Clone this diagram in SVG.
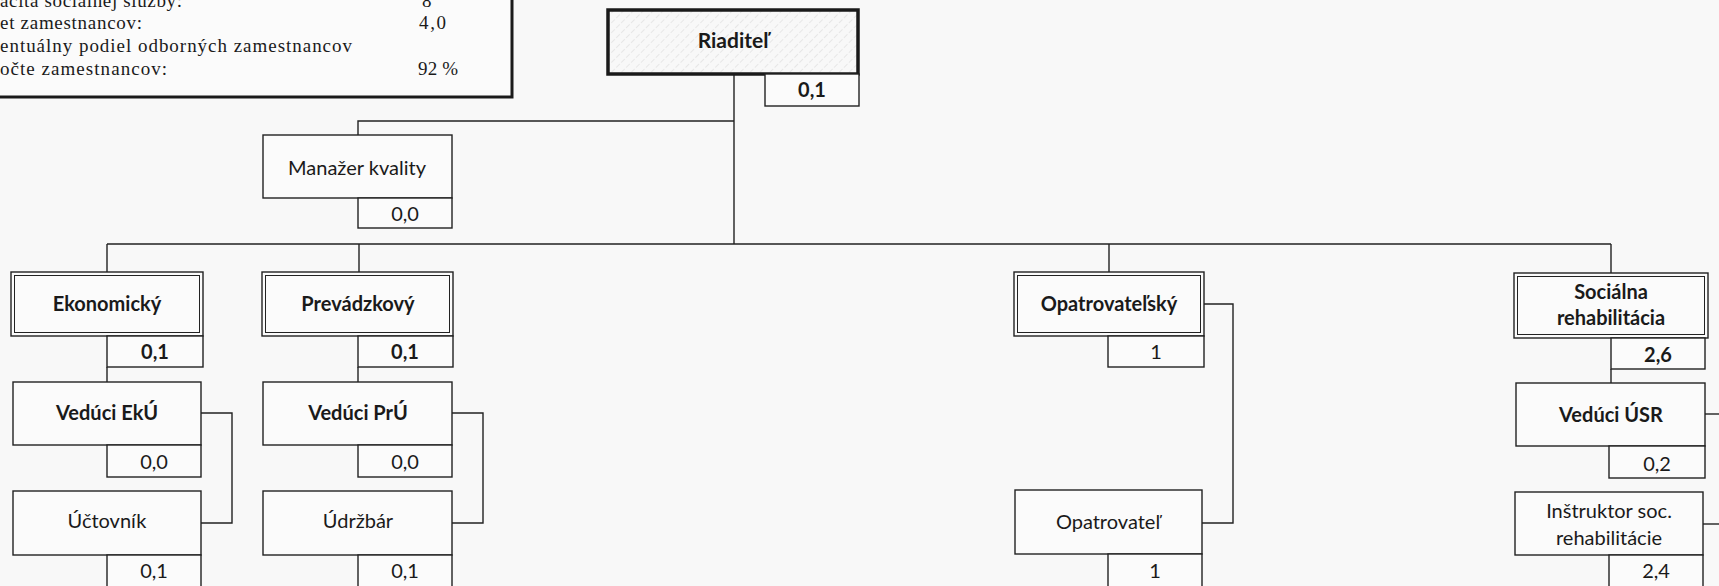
<svg xmlns="http://www.w3.org/2000/svg" width="1719" height="586" viewBox="0 0 1719 586">
<defs>
<pattern id="hatch" width="7" height="7" patternUnits="userSpaceOnUse" patternTransform="rotate(45)">
<line x1="0" y1="0" x2="0" y2="7" stroke="#c4c4c4" stroke-width="0.7" stroke-dasharray="4 2"/>
</pattern>
<style>
.bg{fill:#f8f8f8}
.box{fill:#fbfbfb;stroke:#222;stroke-width:1.4}
.inner{fill:none;stroke:#222;stroke-width:1}
.thick{fill:url(#hatch);stroke:#1a1a1a;stroke-width:3.5}
.info{fill:#fbfbfb;stroke:#1a1a1a;stroke-width:3}
.conn{fill:none;stroke:#222;stroke-width:1.4}
.t{font-family:Lato,"Liberation Sans",sans-serif;font-size:20px;fill:#1a1a1a;text-anchor:middle}
.b{font-weight:bold}
.big{font-size:21px}
.s{font-family:"Liberation Serif",serif;font-size:19px;fill:#1a1a1a}
</style>
</defs>
<rect class="bg" x="0" y="0" width="1719" height="586"/>

<g id="info">
<rect class="info" x="-10" y="-10" width="522" height="107"/>
<text class="s" x="0" y="7" textLength="182" lengthAdjust="spacing">acita sociálnej služby:</text>
<text class="s" x="422" y="7">8</text>
<text class="s" x="0" y="29" textLength="142" lengthAdjust="spacing">et zamestnancov:</text>
<text class="s" x="419" y="29" textLength="27" lengthAdjust="spacing">4,0</text>
<text class="s" x="0" y="52" textLength="352" lengthAdjust="spacing">entuálny podiel odborných zamestnancov</text>
<text class="s" x="0" y="75" textLength="167" lengthAdjust="spacing">očte zamestnancov:</text>
<text class="s" x="418" y="75" textLength="40" lengthAdjust="spacing">92 %</text>
</g>

<g id="connectors">
<path class="conn" d="M734,74 V244"/>
<path class="conn" d="M734,121 H358 V135"/>
<path class="conn" d="M107,244 H1611"/>
<path class="conn" d="M107,244 V272"/>
<path class="conn" d="M359,244 V272"/>
<path class="conn" d="M1109,244 V272"/>
<path class="conn" d="M1611,244 V273"/>
<path class="conn" d="M107,367 V382"/>
<path class="conn" d="M358,367 V382"/>
<path class="conn" d="M1611,369 V383"/>
<path class="conn" d="M201,413 H232 V523 H201"/>
<path class="conn" d="M452,413 H483 V523 H452"/>
<path class="conn" d="M1204,304 H1233 V523 H1202"/>
<path class="conn" d="M1705,414 H1725"/>
<path class="conn" d="M1703,524 H1725"/>
</g>

<g id="riaditel">
<rect class="thick" x="608" y="10" width="250" height="64"/>
<text class="t b big" x="733" y="48">Riaditeľ</text>
<rect class="box" x="765" y="74" width="94" height="32"/>
<text class="t b" x="812" y="97">0,1</text>
</g>

<g id="manazer">
<rect class="box" x="263" y="135" width="189" height="63"/>
<text class="t" x="357" y="175">Manažer kvality</text>
<rect class="box" x="358" y="198" width="94" height="30"/>
<text class="t" x="405" y="221">0,0</text>
</g>

<g id="ekonomicky">
<rect class="box" x="11" y="272" width="192" height="64"/>
<rect class="inner" x="14.5" y="275.5" width="185" height="57"/>
<text class="t b" x="107" y="311">Ekonomický</text>
<rect class="box" x="107" y="336" width="96" height="31"/>
<text class="t b" x="155" y="359">0,1</text>
</g>

<g id="vedEk">
<rect class="box" x="13" y="382" width="188" height="63"/>
<text class="t b" x="107" y="420">Vedúci EkÚ</text>
<rect class="box" x="107" y="445" width="94" height="32"/>
<text class="t" x="154" y="469">0,0</text>
</g>

<g id="uctovnik">
<rect class="box" x="13" y="491" width="188" height="64"/>
<text class="t" x="107" y="528">Účtovník</text>
<rect class="box" x="107" y="555" width="94" height="40"/>
<text class="t" x="154" y="578">0,1</text>
</g>

<g id="prevadzkovy">
<rect class="box" x="262" y="272" width="191" height="64"/>
<rect class="inner" x="265.5" y="275.5" width="184" height="57"/>
<text class="t b" x="358" y="311">Prevádzkový</text>
<rect class="box" x="358" y="336" width="95" height="31"/>
<text class="t b" x="405" y="359">0,1</text>
</g>

<g id="vedPr">
<rect class="box" x="263" y="382" width="189" height="63"/>
<text class="t b" x="358" y="420">Vedúci PrÚ</text>
<rect class="box" x="358" y="445" width="94" height="32"/>
<text class="t" x="405" y="469">0,0</text>
</g>

<g id="udrzbar">
<rect class="box" x="263" y="491" width="189" height="64"/>
<text class="t" x="358" y="528">Údržbár</text>
<rect class="box" x="358" y="555" width="94" height="40"/>
<text class="t" x="405" y="578">0,1</text>
</g>

<g id="opatrovatelsky">
<rect class="box" x="1014" y="272" width="190" height="64"/>
<rect class="inner" x="1017.5" y="275.5" width="183" height="57"/>
<text class="t b" x="1109" y="311">Opatrovateľský</text>
<rect class="box" x="1108" y="336" width="96" height="31"/>
<text class="t" x="1156" y="359">1</text>
</g>

<g id="opatrovatel">
<rect class="box" x="1015" y="490" width="187" height="64"/>
<text class="t" x="1108" y="529">Opatrovateľ</text>
<rect class="box" x="1108" y="554" width="94" height="40"/>
<text class="t" x="1155" y="578">1</text>
</g>

<g id="socialna">
<rect class="box" x="1514" y="273" width="194" height="65"/>
<rect class="inner" x="1517.5" y="276.5" width="187" height="58"/>
<text class="t b" x="1611" y="299">Sociálna</text>
<text class="t b" x="1611" y="325">rehabilitácia</text>
<rect class="box" x="1611" y="338" width="94" height="31"/>
<text class="t b" x="1658" y="362">2,6</text>
</g>

<g id="vedUSR">
<rect class="box" x="1516" y="383" width="189" height="63"/>
<text class="t b" x="1611" y="422">Vedúci ÚSR</text>
<rect class="box" x="1609" y="446" width="96" height="32"/>
<text class="t" x="1657" y="471">0,2</text>
</g>

<g id="instruktor">
<rect class="box" x="1515" y="492" width="188" height="63"/>
<text class="t" x="1609" y="518">Inštruktor soc.</text>
<text class="t" x="1609" y="545">rehabilitácie</text>
<rect class="box" x="1609" y="555" width="94" height="40"/>
<text class="t" x="1656" y="578">2,4</text>
</g>
</svg>
